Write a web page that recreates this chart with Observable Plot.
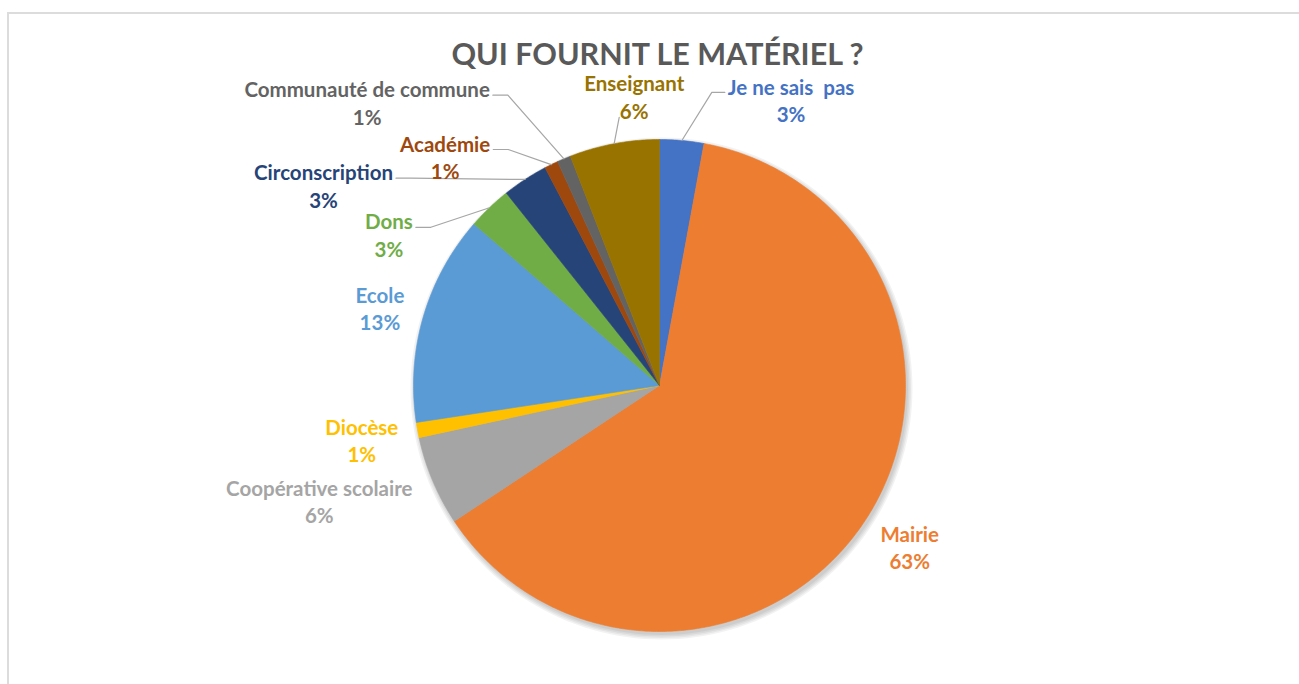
<!DOCTYPE html>
<html><head><meta charset="utf-8">
<script src="https://cdn.jsdelivr.net/npm/d3@7"></script>
<script src="https://cdn.jsdelivr.net/npm/@observablehq/plot@0.6"></script>
<style>
body{margin:0;background:#fff;font-family:Lato,"Open Sans",sans-serif;}
#wrap{position:relative;width:1299px;height:684px;overflow:hidden;}
#frame{position:absolute;left:7px;top:12px;width:1400px;height:800px;border-top:2px solid #dcdcdc;border-left:2px solid #dcdcdc;pointer-events:none;}
#title{position:relative;left:8px;width:1299px;height:70px;box-sizing:border-box;padding-top:38px;text-align:center;font:bold 30.5px/30px Lato,sans-serif;color:#595959;}
svg text{white-space:pre;}
</style>
</head><body>
<div id="wrap"><div id="frame"></div><div id="title">QUI FOURNIT LE MATÉRIEL ?</div><div id="chart"></div></div>
<script>
// ---- data ----
const names = ["Je ne sais  pas","Mairie","Coopérative scolaire","Diocèse","Ecole","Dons","Circonscription","Académie","Communauté de commune","Enseignant"];
const shares = [2.9, 62.8, 5.9, 1.0, 13.8, 2.9, 3.0, 0.9, 0.9, 5.9];
const pctLabels = ["3%","63%","6%","1%","13%","3%","3%","1%","1%","6%"];
const colors = ["#4472C4","#ED7D31","#A5A5A5","#FFC000","#5B9BD5","#70AD47","#264478","#9E480E","#636363","#997300"];
// ---- label layout (angle in degrees clockwise from top, distance in pie radii) ----
const labelAngle = [24.7,122.8,251.3,259.7,285.6,299.2,300.8,316.9,314.1,355];
const labelRadius = [1.28,1.21,1.46,1.23,1.18,1.26,1.59,1.275,1.655,1.18];
const leaderSide = ["left",null,null,null,null,"right","right","right","right","bottom"];

const W = 1299, H = 614, R = 246, CX = 659, CY = 315;
const k = 1 / R;
const arcs = d3.pie().sort(null).value(d => d)(shares);

const slicePts = [];
arcs.forEach((a, i) => {
  slicePts.push({name: names[i], x: 0, y: 0});
  const n = Math.max(2, Math.ceil((a.endAngle - a.startAngle) / (Math.PI / 360)));
  for (let j = 0; j <= n; j++) {
    const t = a.startAngle + (a.endAngle - a.startAngle) * j / n;
    slicePts.push({name: names[i], x: Math.sin(t), y: Math.cos(t)});
  }
  slicePts.push({name: names[i], x: 0, y: 0});
});

// soft shadow under the pie (outline of the whole pie, slightly grown, offset)
const shadowPts = [];
[5, 3.5, 2, 0.5].forEach((g, layer) => {
  const rr = 1 + g * k;
  for (let j = 0; j <= 360; j += 2) {
    const t = j * Math.PI / 180;
    shadowPts.push({layer, x: rr * Math.sin(t), y: rr * Math.cos(t)});
  }
});

const FS = 20.5;
const ctx = document.createElement("canvas").getContext("2d");
ctx.font = `bold ${FS}px Lato`;
const labels = names.map((nm, i) => {
  const ang = labelAngle[i] * Math.PI / 180;
  return {name: nm, x: labelRadius[i] * Math.sin(ang), y: labelRadius[i] * Math.cos(ang),
          text: nm + "\n" + pctLabels[i]};
});

const leaderPts = [];
labels.forEach((l, i) => {
  const side = leaderSide[i];
  if (!side) return;
  const mid = (arcs[i].startAngle + arcs[i].endAngle) / 2;
  const sx = Math.sin(mid), sy = Math.cos(mid);
  const w = ctx.measureText(names[i]).width;
  const ly = l.y + 7 * k;
  let pts;
  if (side === "right") {
    const ex = l.x + (w / 2 + 3) * k;
    pts = [[sx, sy], [ex + 15 * k, ly], [ex, ly]];
  } else if (side === "left") {
    const ex = l.x - (w / 2 + 3) * k;
    pts = [[sx, sy], [ex - 13 * k, ly], [ex, ly]];
  } else {
    pts = [[sx, sy], [l.x - 15 * k, l.y - 21 * k]];
  }
  pts.forEach(p => leaderPts.push({id: i, x: p[0], y: p[1]}));
});

const sliceMarks = names.map((nm, i) =>
  Plot.line(slicePts.filter(d => d.name === nm), {x: "x", y: "y", fill: colors[i], stroke: colors[i], strokeWidth: 0.6}));

const chart = Plot.plot({
  width: W, height: H, margin: 0,
  style: {background: "transparent", overflow: "visible"},
  x: {domain: [-CX / R, (W - CX) / R], axis: null},
  y: {domain: [-(H - CY) / R, CY / R], axis: null},
  color: {domain: names, range: colors},
  marks: [
    Plot.line(shadowPts, {x: "x", y: "y", z: "layer", fill: "#000", fillOpacity: 0.05, stroke: "none", dx: 2, dy: 3}),
    ...sliceMarks,
    Plot.line(leaderPts, {x: "x", y: "y", z: "id", stroke: "#A6A6A6", strokeWidth: 1.2}),
    Plot.text(labels, {x: "x", y: "y", text: "text", fill: "name", fontSize: FS, fontWeight: "bold", lineHeight: 1.33, fontFamily: "Lato"})
  ]
});
document.getElementById("chart").appendChild(chart);
</script>
</body></html>
